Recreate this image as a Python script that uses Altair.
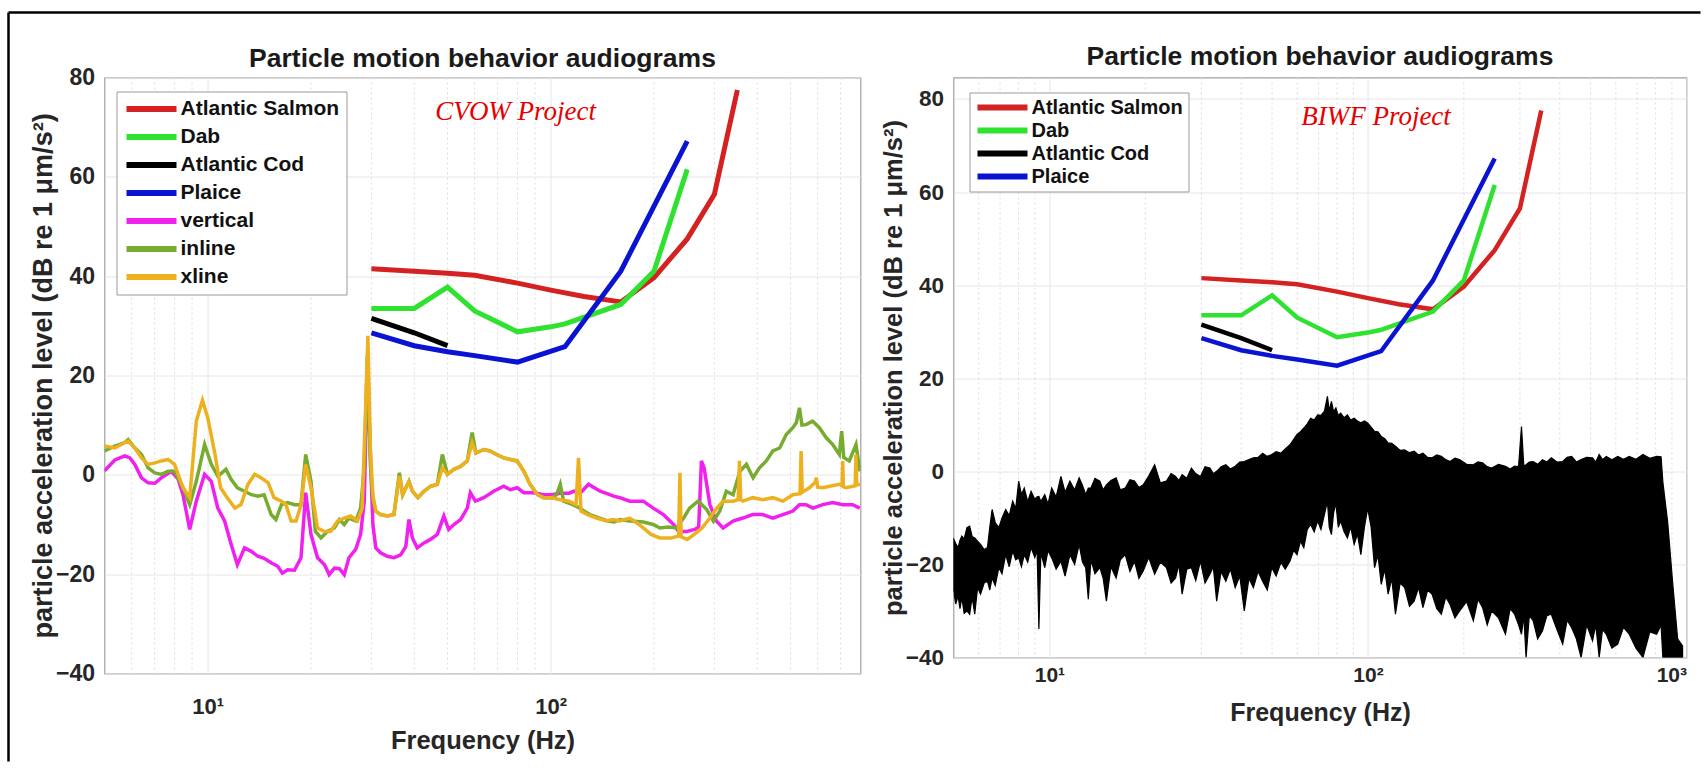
import altair as alt
import pandas as pd

FONT = "Liberation Sans"
TITLE = "Particle motion behavior audiograms"
YTITLE = "particle acceleration level (dB re 1 \u03bcm/s\u00b2)"

SERIES_NAMES = ["Atlantic Salmon", "Dab", "Atlantic Cod", "Plaice", "vertical", "inline", "xline"]
SERIES_COLORS = ["#d42121", "#2fe22f", "#000000", "#0b13d3", "#f020ee", "#77ac30", "#edb120"]

# audiograms (frequency Hz, dB)
SALMON = [(30, 41.5), (40, 41.0), (50, 40.6), (60, 40.2), (80, 38.6), (100, 37.2), (125, 35.9),
          (160, 34.8), (200, 39.7), (250, 47.5), (300, 56.5), (350, 77.5)]
DAB = [(30, 33.5), (40, 33.5), (50, 37.8), (60, 33.0), (80, 28.8), (100, 29.8), (110, 30.4),
       (160, 34.3), (200, 41.0), (250, 61.5)]
COD = [(30, 31.5), (40, 28.6), (50, 26.0)]
PLAICE = [(30, 28.6), (40, 26.0), (50, 24.8), (60, 24.0), (80, 22.7), (110, 25.8), (160, 41.0), (250, 67.2)]

# CVOW particle acceleration spectra (frequency Hz, dB)
VERTICAL = [(5.0, 0.8), (5.36, 3.0), (5.73, 3.8), (5.93, 3.4), (6.13, 2.1), (6.41, -0.6), (6.70, -1.6),
            (7.01, -1.7), (7.32, -0.6), (7.83, 0.7), (8.19, -0.8), (8.47, -4.0), (8.86, -11.0), (9.26, -5.3),
            (9.79, 0.1), (10.24, -1.3), (10.7, -6.7), (11.2, -9.3), (11.7, -14.0), (12.2, -18.1), (12.8, -14.7),
            (13.4, -15.4), (14.0, -16.4), (14.6, -16.8), (15.3, -17.7), (16.0, -18.4), (16.5, -19.8),
            (17.1, -19.1), (17.9, -19.2), (18.7, -16.7), (19.3, -3.6), (20.0, -12.0), (20.9, -16.7),
            (21.9, -18.1), (22.6, -20.1), (23.4, -18.8), (24.2, -18.9), (25.0, -20.1), (25.8, -16.7),
            (27.0, -15.0), (27.9, -12.0), (28.6, -5.3), (29.2, 22.0), (29.8, 4.0), (30.3, -10.0),
            (30.9, -14.7), (31.9, -15.7), (33.4, -16.4), (34.9, -16.7), (36.5, -16.1), (37.8, -14.4),
            (38.6, -9.0), (39.5, -12.7), (40.8, -14.7), (42.7, -13.7), (44.6, -13.0), (46.7, -12.0),
            (48.8, -8.3), (50.4, -11.0), (52.2, -10.0), (54.6, -9.0), (57.1, -6.7), (58.3, -3.6),
            (60.3, -5.3), (63.8, -4.6), (68.2, -3.3), (72.9, -2.3), (76.3, -3.0), (79.8, -2.6),
            (83.5, -3.6), (89.2, -3.6), (95.3, -4.0), (100.7, -4.0), (106.6, -3.7), (113, -3.7),
            (117, -3.3), (121.8, -3.7), (128.9, -1.9), (134, -2.6), (139.4, -3.3), (146, -3.8),
            (152.5, -4.3), (159, -4.6), (170, -5.3), (186, -5.3), (199, -6.7), (213, -8.0), (228, -10.0),
            (236, -11.4), (249, -11.4), (263, -11.0), (270, -10.5), (275, 2.8), (280, 1.4), (285, -2.0),
            (291, -6.0), (304, -9.3), (318, -10.7), (340, -9.3), (363, -8.7), (388, -8.0), (415, -8.0),
            (444, -8.7), (475, -8.0), (508, -7.3), (531, -6.0), (555, -6.0), (581, -6.7), (621, -6.0),
            (664, -5.6), (710, -6.0), (759, -6.0), (796, -6.7)]

INLINE = [(5.0, 4.8), (5.36, 5.8), (5.73, 6.5), (5.86, 7.1), (6.13, 5.4), (6.41, 4.1), (6.70, 1.4),
          (7.01, 0.4), (7.32, 0.1), (7.66, 0.7), (8.0, 0.7), (8.47, -2.6), (8.86, -6.0), (9.26, -1.3),
          (9.79, 6.1), (10.24, 2.1), (10.7, -0.3), (11.3, 1.1), (11.7, -0.9), (12.2, -2.6), (12.8, -3.3),
          (13.4, -4.0), (14.0, -4.3), (14.6, -4.0), (15.3, -8.0), (15.8, -9.0), (16.4, -6.0), (17.1, -5.6),
          (17.9, -6.0), (18.7, -6.0), (19.3, 4.1), (20.0, -1.3), (20.6, -11.4), (21.4, -12.7), (22.3, -11.4),
          (23.4, -10.7), (24.2, -9.0), (25.0, -10.0), (25.8, -8.7), (27.0, -9.3), (27.9, -6.7), (28.6, 1.4),
          (29.2, 24.0), (29.8, 2.0), (30.3, -5.0), (30.9, -7.3), (31.9, -8.0), (33.4, -8.3), (34.9, -8.0),
          (36.2, 0.4), (37.0, -4.0), (38.6, -1.3), (39.5, -3.3), (41.0, -4.6), (42.7, -3.3), (44.6, -2.3),
          (46.7, -1.9), (48.3, 4.1), (50.0, 0.1), (52.2, 1.1), (54.6, 1.7), (57.1, 2.8), (59.0, 8.5),
          (60.5, 4.4), (63.8, 5.1), (66.5, 4.8), (69.5, 4.1), (72.9, 3.4), (76.3, 3.1), (79.8, 2.8),
          (83.5, 0.7), (87.0, -1.9), (91.5, -4.0), (95.3, -4.6), (100.7, -4.6), (104, -4.0), (106.6, -1.9),
          (109, -5.3), (116, -6.0), (120, -6.5), (125, -7.3), (130, -8.0), (139, -8.7), (147, -9.3),
          (153, -9.5), (159, -9.0), (170, -9.3), (186, -9.5), (199, -10.0), (208, -10.7), (220, -10.5),
          (233, -10.7), (245, -8.5), (254, -6.7), (269, -5.3), (285, -7.0), (298, -9.3), (311, -7.3),
          (325, -3.3), (340, -4.0), (356, 0.7), (372, 2.1), (389, -0.6), (406, 1.4), (425, 2.8),
          (444, 4.8), (465, 5.4), (486, 8.1), (508, 9.5), (520, 10.5), (531, 13.5), (540, 10.0),
          (555, 10.1), (580, 10.8), (607, 9.5), (635, 7.5), (664, 6.1), (694, 4.1), (705, 8.8),
          (715, 3.5), (742, 2.8), (776, 6.1), (797, 0.7)]

XLINE = [(5.0, 5.8), (5.36, 5.4), (5.73, 6.5), (5.86, 6.8), (6.13, 5.4), (6.41, 3.4), (6.70, 2.1),
         (7.01, 2.4), (7.32, 2.8), (7.66, 3.1), (8.0, 2.1), (8.47, -2.6), (8.86, -4.6), (9.26, 10.8),
         (9.65, 15.0), (10.0, 11.5), (10.5, 4.1), (10.9, -2.6), (11.4, -4.6), (12.0, -6.7), (12.5, -6.0),
         (13.1, -1.9), (13.7, 0.1), (14.3, -0.6), (15.0, -1.6), (15.6, -4.6), (16.4, -5.3), (16.9, -6.0),
         (17.5, -9.3), (18.1, -9.3), (18.7, -6.0), (19.3, 2.1), (20.0, -2.6), (20.9, -10.7), (21.9, -11.4),
         (22.8, -11.4), (23.9, -9.3), (25.0, -8.7), (26.1, -8.3), (27.3, -9.3), (28.2, -6.7), (28.9, 14.9),
         (29.3, 28.0), (29.8, 5.0), (30.3, -4.0), (30.9, -7.3), (31.9, -8.0), (33.4, -8.3), (34.9, -8.0),
         (36.2, -0.3), (37.0, -4.0), (38.6, -1.3), (39.5, -3.3), (41.0, -4.6), (42.7, -3.3), (44.6, -2.3),
         (46.7, -1.9), (48.3, 1.4), (50.0, 0.1), (52.2, 1.1), (54.6, 1.7), (57.1, 2.8), (59.0, 6.5),
         (60.5, 4.4), (63.8, 5.1), (66.5, 4.8), (69.5, 4.1), (72.9, 3.4), (76.3, 3.1), (79.8, 2.8),
         (83.5, 0.7), (87.0, -1.9), (91.5, -4.0), (95.3, -4.6), (100.7, -4.6), (106.6, -5.0), (113, -5.3),
         (118.5, -6.0), (120.5, 3.4), (122.5, -7.3), (128, -8.0), (136, -8.7), (145, -9.3), (152, -9.0),
         (159, -9.3), (170, -8.7), (181, -10.0), (196, -12.0), (208, -12.7), (225, -12.7), (236, -12.3),
         (238, 0.4), (240, -12.5), (250, -13.0), (262, -12.0), (276, -10.7), (291, -8.7), (305, -6.7),
         (318, -5.3), (340, -5.3), (352, -5.0), (355, 2.8), (358, -5.0), (363, -5.3), (388, -4.6),
         (415, -5.0), (444, -4.6), (475, -5.3), (508, -4.0), (533, -3.8), (537, 4.8), (541, -3.5),
         (568, -2.6), (590, -1.5), (595, -0.6), (600, -2.5), (621, -2.6), (650, -2.3), (694, -1.9),
         (707, -2.2), (710, 2.8), (713, -2.4), (726, -2.6), (772, -2.2), (776, 4.1), (780, -2.0),
         (797, -1.9)]

# BIWF spectrum: (frequency Hz, lower edge dB, upper edge dB)
BIWF = [(4.99, -25.0, -14.3), (5.08, -28.5, -15.5), (5.17, -26.8, -16.4), (5.24, -29.5, -14.8),
        (5.31, -27.1, -13.9), (5.40, -30.5, -14.5), (5.51, -30.0, -12.1), (5.62, -30.7, -11.8),
        (5.72, -27.0, -14.0), (5.83, -30.7, -14.3), (5.95, -25.0, -15.0), (6.08, -26.4, -15.7),
        (6.24, -24.0, -16.8), (6.39, -23.6, -16.4), (6.50, -25.5, -12.0), (6.61, -22.9, -8.2),
        (6.76, -24.5, -11.0), (6.94, -20.7, -12.1), (7.10, -22.0, -10.0), (7.29, -17.9, -8.2),
        (7.48, -20.5, -9.5), (7.67, -17.1, -6.4), (7.84, -19.0, -8.0), (8.01, -18.6, -2.1),
        (8.17, -20.5, -5.0), (8.34, -17.9, -3.6), (8.55, -19.5, -6.5), (8.76, -16.4, -4.3),
        (9.00, -18.5, -6.0), (9.15, -17.0, -5.5), (9.27, -33.9, -5.4), (9.40, -17.5, -6.5),
        (9.67, -20.7, -5.0), (9.90, -17.0, -7.0), (10.17, -18.6, -3.6), (10.5, -21.0, -5.5),
        (10.87, -19.3, -1.1), (11.2, -22.5, -4.5), (11.6, -17.9, -2.1), (12.0, -20.0, -4.0),
        (12.4, -15.7, -1.4), (12.7, -19.5, -3.0), (13.0, -20.7, -5.0), (13.25, -27.5, -3.6),
        (13.5, -19.0, -3.6), (13.9, -22.0, -1.5), (14.4, -20.7, -2.1), (14.75, -23.0, -4.0),
        (15.1, -27.9, -2.9), (15.6, -20.5, -2.0), (16.2, -22.9, -1.4), (16.7, -19.0, -4.0),
        (17.3, -17.9, -3.6), (17.9, -21.5, -1.8), (18.5, -19.3, -2.1), (19.1, -23.0, -3.5),
        (19.7, -21.4, -2.9), (20.5, -18.5, -1.0), (21.4, -22.1, 1.4), (22.3, -19.5, -2.5),
        (23.3, -20.7, -2.1), (24.1, -24.0, -0.5), (24.9, -22.9, -1.1), (25.5, -20.0, -2.0),
        (26.1, -26.4, -0.7), (27.0, -21.0, -1.5), (27.9, -20.7, 0.7), (28.8, -23.5, -0.5),
        (29.8, -19.3, -1.1), (30.8, -24.0, 1.0), (31.9, -22.1, 0.7), (32.7, -20.5, -0.5),
        (33.5, -27.9, 0.0), (34.6, -21.5, 1.0), (35.8, -23.6, 1.4), (37.0, -21.0, 0.5),
        (38.3, -25.0, 1.1), (39.6, -22.5, 2.0), (40.9, -30.0, 2.1), (42.3, -23.0, 2.5),
        (43.7, -25.0, 2.9), (45.2, -21.5, 3.0), (46.7, -23.6, 3.9), (48.3, -25.5, 3.2),
        (49.9, -20.7, 3.6), (51.5, -22.5, 4.2), (53.3, -19.6, 3.9), (55.0, -21.0, 4.8),
        (56.9, -19.3, 5.7), (58.4, -17.0, 6.8), (59.9, -17.9, 7.9), (61.4, -15.0, 8.5),
        (62.9, -16.4, 9.3), (64.5, -12.5, 10.2), (66.1, -11.4, 11.4), (67.8, -13.0, 11.0),
        (69.5, -10.7, 12.1), (71.2, -12.5, 12.0), (73.0, -9.3, 12.9), (74.6, -6.4, 16.1),
        (75.6, -12.0, 13.0), (76.8, -13.6, 15.0), (78.0, -9.0, 12.8), (79.3, -6.8, 13.6),
        (80.7, -12.0, 12.0), (82.1, -10.7, 12.5), (84.2, -13.0, 11.5), (86.2, -14.3, 12.1),
        (88.3, -12.0, 11.0), (90.5, -15.7, 11.4), (92.7, -13.5, 10.8), (95.0, -17.9, 10.4),
        (97.5, -12.0, 10.8), (99.8, -7.9, 10.4), (102.3, -12.0, 9.5), (104.9, -20.7, 8.6),
        (107.5, -18.0, 8.5), (110.1, -24.3, 7.5), (112.9, -21.0, 7.0), (115.7, -26.4, 6.1),
        (118.8, -23.0, 6.0), (122.0, -30.7, 5.4), (126.2, -24.0, 4.5), (130.4, -25.0, 4.6),
        (135.0, -29.0, 4.0), (139.6, -27.9, 4.3), (144.2, -25.0, 3.5), (148.8, -29.3, 3.9),
        (154.0, -25.5, 3.0), (159.0, -26.4, 2.9), (164.5, -29.5, 3.5), (170.0, -30.7, 3.2),
        (175.5, -27.0, 2.5), (181.0, -28.6, 2.1), (187.5, -31.5, 2.8), (194.0, -30.0, 2.5),
        (204.0, -28.0, 1.5), (214.2, -32.1, 1.4), (221.5, -27.5, 2.0), (229.0, -29.3, 1.8),
        (236.8, -33.0, 1.0), (244.6, -30.0, 0.7), (257.0, -31.5, 1.5), (270.2, -35.0, 1.1),
        (279.5, -29.5, 0.5), (288.7, -30.7, 1.1), (297.0, -33.0, 1.0), (303.4, -35.0, 9.6),
        (308.5, -31.0, 1.2), (313.6, -40.0, 1.4), (321.0, -31.0, 2.0), (330.0, -32.1, 2.1),
        (341.0, -36.0, 1.5), (353.0, -34.3, 2.5), (364.5, -31.0, 2.0), (376.3, -30.7, 2.9),
        (392.0, -34.0, 2.0), (408.7, -37.1, 2.1), (422.0, -32.0, 3.0), (436.0, -33.6, 3.2),
        (451.0, -36.0, 2.0), (466.9, -40.0, 2.5), (486.0, -33.0, 3.0), (507.0, -36.4, 2.9),
        (519.0, -33.0, 2.0), (532.0, -40.0, 3.6), (545.0, -34.0, 2.5), (560.0, -35.0, 3.2),
        (583.0, -38.0, 2.5), (608.4, -37.1, 3.2), (634.0, -33.5, 2.6), (661.0, -35.0, 3.2),
        (694.0, -38.0, 2.6), (730.0, -40.0, 3.6), (767.0, -34.5, 2.8), (806.0, -35.0, 3.2),
        (832.0, -33.0, 3.1), (843.0, -40.0, -2.3), (873.0, -40.0, -11.0), (905.0, -40.0, -24.0),
        (938.0, -40.0, -36.0), (972.0, -40.0, -37.5)]

MINOR_LEFT = [6, 7, 8, 9, 20, 30, 40, 50, 60, 70, 80, 90, 200, 300, 400, 500, 600, 700]
MINOR_RIGHT = [6, 7, 8, 9, 20, 30, 40, 50, 60, 70, 80, 90, 200, 300, 400, 500, 600, 700, 800, 900]
Y_TICKS = [-40, -20, 0, 20, 40, 60, 80]
NOTE_LEFT = [(79, 73.0, "CVOW Project")]
NOTE_RIGHT = [(106, 76.2, "BIWF Project")]


def series_df(pairs, name):
    return pd.DataFrame({"f": [p[0] for p in pairs], "db": [p[1] for p in pairs], "series": name})


audio_df = pd.concat([series_df(SALMON, "Atlantic Salmon"), series_df(DAB, "Dab"),
                      series_df(COD, "Atlantic Cod"), series_df(PLAICE, "Plaice")], ignore_index=True)
biwf_df = pd.DataFrame({"f": [b[0] for b in BIWF], "db": [b[1] for b in BIWF], "db2": [b[2] for b in BIWF]})
one_row = pd.DataFrame({"k": [0]})


def noise_layers(xenc, yenc, cenc):
    out = []
    for pairs, name in [(VERTICAL, "vertical"), (INLINE, "inline"), (XLINE, "xline")]:
        out.append(alt.Chart(series_df(pairs, name)).mark_line(strokeWidth=3.5, clip=True).encode(
            x=xenc, y=yenc, color=cenc))
    return out


def no_extra(xenc, yenc):
    return []


def band_layer(xenc, yenc):
    return [alt.Chart(biwf_df).mark_area(color="black", stroke="black", strokeWidth=1.2, clip=True).encode(
        x=xenc, y=yenc, y2=alt.Y2("db2:Q"))]


def make_panel(width, height, xdom, xvals, xlabel_expr, ydom, minor, names, legend_kw,
               xlab_size, xlab_pad, xtitle_size, xtitle_y, ylab_size, ytitle_size, ytitle_x,
               notes, extra_layers, audio_width):
    xenc = alt.X("f:Q", scale=alt.Scale(type="log", domain=xdom, nice=False),
                 axis=alt.Axis(values=xvals, labelExpr=xlabel_expr, title="Frequency (Hz)",
                               labelFontSize=xlab_size, labelPadding=xlab_pad, labelFlush=True,
                               titleFontSize=xtitle_size, titleX=width / 2, titleY=xtitle_y,
                               titleBaseline="middle", titleAlign="center", grid=True))
    yenc = alt.Y("db:Q", scale=alt.Scale(domain=ydom, nice=False, zero=False),
                 axis=alt.Axis(values=Y_TICKS, title=YTITLE, labelFontSize=ylab_size, labelPadding=10,
                               titleFontSize=ytitle_size, titleAngle=270, titleX=ytitle_x,
                               titleY=height / 2, titleAlign="center", titleBaseline="middle", grid=True))
    colors = SERIES_COLORS[:len(names)]
    cenc = alt.Color("series:N", scale=alt.Scale(domain=names, range=colors),
                     legend=alt.Legend(title=None, orient="none", symbolType="stroke", symbolSize=2500,
                                       symbolStrokeWidth=6, labelFont=FONT, labelFontWeight="bold",
                                       labelColor="#111111", labelLimit=400, labelOffset=1,
                                       fillColor="white", strokeColor="#9a9a9a", **legend_kw))
    minor_layer = alt.Chart(pd.DataFrame({"f": minor})).mark_rule(
        color="#dddddd", strokeDash=[2, 3], strokeWidth=1).encode(x=xenc)
    layers = [minor_layer] + extra_layers(xenc, yenc)
    layers.append(alt.Chart(audio_df).mark_line(strokeWidth=audio_width, clip=True).encode(
        x=xenc, y=yenc, color=cenc))
    if len(names) > 4:
        layers += noise_layers(xenc, yenc, cenc)
    note_df = pd.DataFrame({"f": [n[0] for n in notes], "db": [n[1] for n in notes], "t": [n[2] for n in notes]})
    layers.append(alt.Chart(note_df).mark_text(font="Liberation Serif", fontStyle="italic", fontSize=27,
                                               color="#e60000", align="center", baseline="middle").encode(
        x=xenc, y=yenc, text="t:N"))
    return layers


left_layers = make_panel(756, 596, [5, 800], [10, 100], "datum.value == 10 ? '10\u00b9' : '10\u00b2'",
                         [-40, 80], MINOR_LEFT, SERIES_NAMES,
                         dict(legendX=12, legendY=14, clipHeight=21, rowPadding=6, labelFontSize=21, padding=7),
                         22, 23, 25.5, 66.5, 23, 27, -61.4, NOTE_LEFT, no_extra, 5)
border_top = alt.Chart(one_row).mark_rule(color="black", strokeWidth=2.5).encode(
    x=alt.value(-96), x2=alt.value(1596), y=alt.value(-65))
border_left = alt.Chart(one_row).mark_rule(color="black", strokeWidth=2.5).encode(
    x=alt.value(-96), y=alt.value(-65), y2=alt.value(684))
left = alt.layer(*left_layers, border_top, border_left).properties(
    width=756, height=596,
    title=alt.TitleParams(TITLE, frame="group", anchor="middle", baseline="alphabetic", offset=-82,
                          fontSize=26.5, font=FONT, fontWeight="bold", color="#1a1a1a"))

right_layers = make_panel(733, 580, [5, 1000], [10, 100, 1000],
                          "datum.value == 10 ? '10\u00b9' : datum.value == 100 ? '10\u00b2' : '10\u00b3'",
                          [-40, 84.6], MINOR_RIGHT, SERIES_NAMES[:4],
                          dict(legendX=16, legendY=15, clipHeight=20, rowPadding=3, labelFontSize=20, padding=5),
                          21, 7, 25, 54.5, 22.5, 25.5, -60, NOTE_RIGHT, band_layer, 4.5)
right = alt.layer(*right_layers).properties(
    width=733, height=580,
    title=alt.TitleParams(TITLE, frame="group", anchor="middle", baseline="alphabetic", offset=-14.5,
                          fontSize=26.5, font=FONT, fontWeight="bold", color="#1a1a1a"))

chart = alt.hconcat(left, right, spacing=93, bounds="flush").resolve_scale(color="independent").properties(
    padding={"left": 6.5, "top": 10.5, "right": 0, "bottom": 0}, background="white"
).configure_view(stroke="#a0a0a0", strokeWidth=1.2).configure_axis(
    ticks=False, domain=False, gridColor="#e6e6e6", gridWidth=1, labelFont=FONT, titleFont=FONT,
    labelFontWeight="bold", titleFontWeight="bold", labelColor="#262626", titleColor="#262626")

chart.save("out.html", embed_options={"renderer": "svg", "actions": False})
